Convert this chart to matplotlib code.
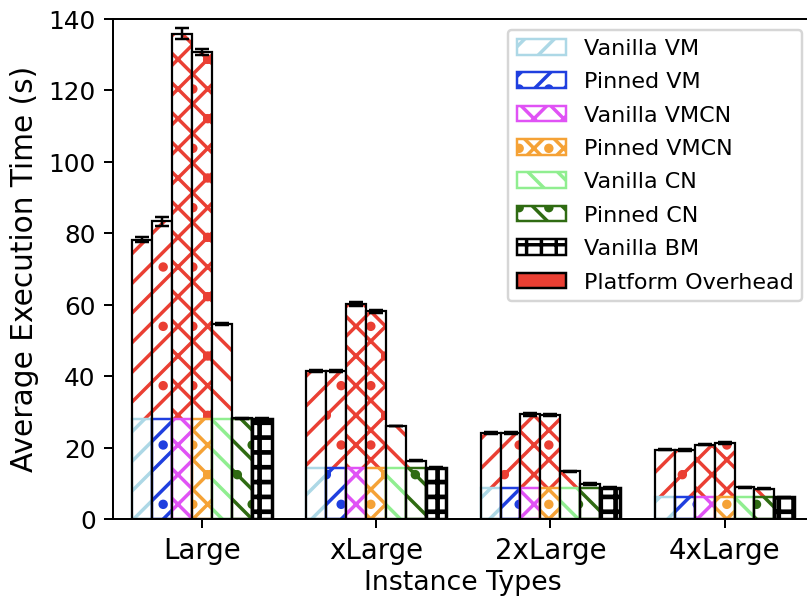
import numpy as np
import matplotlib
matplotlib.use('Agg')
import matplotlib.pyplot as plt
import matplotlib.patches as mpatches

instances = ['Large', 'xLarge', '2xLarge', '4xLarge']
labels = ['Vanilla VM', 'Pinned VM', 'Vanilla VMCN', 'Pinned VMCN',
          'Vanilla CN', 'Pinned CN', 'Vanilla BM']

# average execution time (s) per platform, one value per instance type
vanilla_vm = [78.2, 41.4, 24.1, 19.5]
pinned_vm = [83.3, 41.5, 24.1, 19.4]
vanilla_vmcn = [135.8, 60.1, 29.3, 20.9]
pinned_vmcn = [130.7, 58.1, 29.1, 21.3]
vanilla_cn = [54.6, 26.1, 13.4, 8.9]
pinned_cn = [28.2, 16.4, 9.9, 8.5]
vanilla_bm = [28.0, 14.4, 8.8, 6.1]

# standard deviation
err_vanilla_vm = [0.6, 0.3, 0.2, 0.2]
err_pinned_vm = [1.2, 0.2, 0.3, 0.2]
err_vanilla_vmcn = [1.5, 0.6, 0.3, 0.2]
err_pinned_vmcn = [0.8, 0.4, 0.3, 0.2]
err_vanilla_cn = [0.2, 0.1, 0.1, 0.1]
err_pinned_cn = [0.1, 0.2, 0.2, 0.1]
err_vanilla_bm = [0.2, 0.2, 0.2, 0.2]

times = [vanilla_vm, pinned_vm, vanilla_vmcn, pinned_vmcn,
         vanilla_cn, pinned_cn, vanilla_bm]
errs = [err_vanilla_vm, err_pinned_vm, err_vanilla_vmcn, err_pinned_vmcn,
        err_vanilla_cn, err_pinned_cn, err_vanilla_bm]

colors = ['#add8e6', '#1f3fdf', '#e052f5', '#f5a236',
          '#90ee90', '#2f6b12', 'black']
hatches = ['//', '//.', 'xx', 'xx.', '\\\\', '\\\\.', '++']
overhead_color = '#ea3f33'

plt.rcParams['hatch.linewidth'] = 1.4
plt.rcParams['font.size'] = 10

fig = plt.figure(figsize=(807.4 / 178, 596.4 / 178), dpi=178)
ax = fig.add_axes([0.140, 0.1287, 0.8675, 0.8394])

ind = np.arange(len(instances))
width = 0.8 / len(labels)

handles = []
for i, (t, e) in enumerate(zip(times, errs)):
    x = ind + (i - 3) * width
    t = np.array(t)
    base = np.array(vanilla_bm)
    over = np.clip(t - base, 0, None)
    is_bm = labels[i] == 'Vanilla BM'
    # overhead on top of bare metal time
    ax.bar(x, over, width, bottom=base, color='white', edgecolor=overhead_color,
           hatch=hatches[i], linewidth=0)
    # bare metal part, heavier grid for the BM bars
    with plt.rc_context({'hatch.linewidth': 1.9 if is_bm else 1.4}):
        ax.bar(x, base, width, color='white', edgecolor=colors[i],
               hatch=hatches[i], linewidth=0 if is_bm else 1.0)
        handles.append(mpatches.Patch(facecolor='white', edgecolor=colors[i],
                                      hatch=hatches[i], linewidth=1.0,
                                      label=labels[i]))
    # outline
    ax.bar(x, t, width, fill=False, edgecolor='black',
           linewidth=1.4 if is_bm else 0.9)
    ax.errorbar(x, t, yerr=e, fmt='none', ecolor='black', elinewidth=1.0,
                capsize=2.7, capthick=1.0)

handles.append(mpatches.Patch(facecolor=overhead_color, edgecolor='black',
                              linewidth=1.0, label='Platform Overhead'))

ax.set_xticks(ind)
ax.set_xticklabels(instances, fontsize=11.2)
ax.set_xlim(-0.51, 3.51)
ax.set_ylim(0, 140)
ax.set_yticks(range(0, 141, 20))
ax.tick_params(axis='y', labelsize=10)
ax.set_xlabel('Instance Types', fontsize=10.8, labelpad=2)
ax.set_ylabel('Average Execution Time (s)', fontsize=12)
ax.legend(handles=handles, loc='upper right', fontsize=9, labelspacing=0.6,
          handlelength=2.2)

fig.savefig('out.png', dpi=178)
